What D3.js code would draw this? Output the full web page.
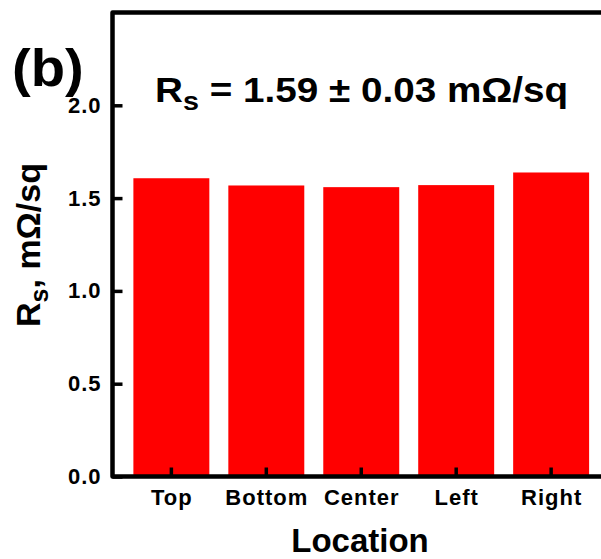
<!DOCTYPE html>
<html>
<head>
<meta charset="utf-8">
<script src="https://cdn.jsdelivr.net/npm/d3@7"></script>
<style>
  body { margin: 0; background: #fff; }
  svg { display: block; font-family: "Liberation Sans", Arial, sans-serif; font-weight: bold; }
  text { white-space: pre; }
</style>
</head>
<body>
<div id="chart"></div>
<script>
// Data
const locations = ["Top", "Bottom", "Center", "Left", "Right"];
const sheetRes = [1.607, 1.568, 1.559, 1.570, 1.638];
const yTicks = [0.0, 0.5, 1.0, 1.5, 2.0];
const yMax = 2.5;

const W = 601, H = 559;
const plot = { left: 112.5, top: 12.5, bottom: 476.5, right: 610 };

const svg = d3.select("#chart").append("svg")
  .attr("width", W)
  .attr("height", H);

// Scales
const x = d3.scaleBand()
  .domain(locations)
  .range([plot.left, plot.right])
  .paddingInner(0.2)
  .paddingOuter(0.22);

const y = d3.scaleLinear()
  .domain([0, yMax])
  .range([plot.bottom, plot.top]);

// Bars
svg.append("g")
  .selectAll("rect")
  .data(locations)
  .enter()
  .append("rect")
  .attr("x", d => x(d))
  .attr("width", x.bandwidth())
  .attr("y", (d, i) => y(sheetRes[i]))
  .attr("height", (d, i) => y(0) - y(sheetRes[i]))
  .attr("fill", "#ff0000");

// Y axis, inward ticks
const yAxis = svg.append("g")
  .attr("transform", `translate(${plot.left},0)`)
  .call(d3.axisLeft(y).tickValues(yTicks).tickSize(-10).tickPadding(11).tickFormat(d3.format(".1f")));
yAxis.select(".domain").remove();
yAxis.selectAll(".tick line").attr("stroke", "#000").attr("stroke-width", 3.5);
yAxis.selectAll(".tick text")
  .attr("fill", "#000")
  .style("font-size", "22px")
  .style("letter-spacing", "1px");

// X axis, inward ticks
const xAxis = svg.append("g")
  .attr("transform", `translate(0,${plot.bottom})`)
  .call(d3.axisBottom(x).tickSize(-9));
xAxis.select(".domain").remove();
xAxis.selectAll(".tick line").attr("stroke", "#000").attr("stroke-width", 3.5);
xAxis.selectAll(".tick text")
  .attr("fill", "#000")
  .attr("x", 0.5)
  .attr("y", 28)
  .attr("dy", 0)
  .style("font-size", "22px")
  .style("letter-spacing", "1px");

// Frame (right side runs off the picture)
svg.append("path")
  .attr("d", `M${plot.right},${plot.bottom}H${plot.left}V${plot.top}H${plot.right}`)
  .attr("fill", "none")
  .attr("stroke", "#000")
  .attr("stroke-width", 4.5)
  .attr("stroke-linejoin", "round");

// Axis titles
svg.append("text")
  .attr("x", 360)
  .attr("y", 552)
  .attr("text-anchor", "middle")
  .style("font-size", "33px")
  .text("Location");

const yLabel = svg.append("text")
  .attr("transform", "translate(40,245) rotate(-90)")
  .attr("text-anchor", "middle")
  .style("font-size", "34px");
yLabel.append("tspan").text("R");
yLabel.append("tspan").attr("dy", 8).style("font-size", "25px").text("s");
yLabel.append("tspan").attr("dy", -8).text(", m\u03A9/sq");

// Panel letter
svg.append("text")
  .attr("transform", "translate(12,86) scale(1.08,1)")
  .style("font-size", "52px")
  .text("(b)");

// Annotation
const note = svg.append("text")
  .attr("transform", "translate(155,102) scale(1.105,1)")
  .style("font-size", "35px");
note.append("tspan").text("R");
note.append("tspan").attr("dy", 8).style("font-size", "26px").text("s");
note.append("tspan").attr("dy", -8).text(" = 1.59 \u00B1 0.03 m\u03A9/sq");
</script>
</body>
</html>
